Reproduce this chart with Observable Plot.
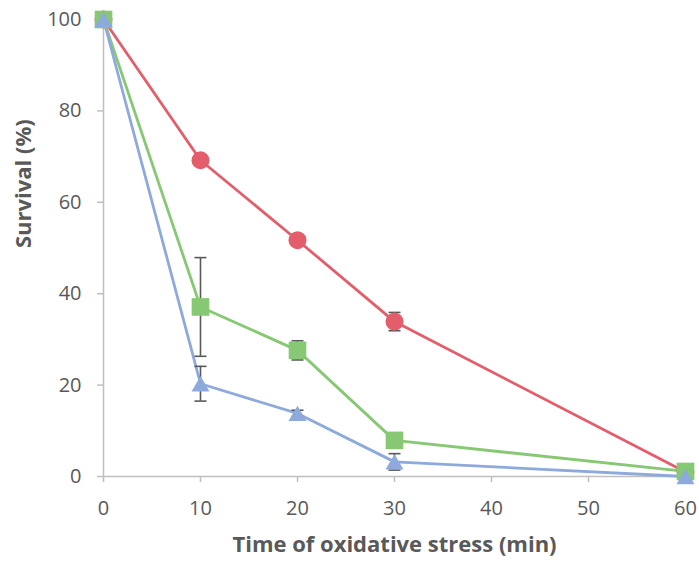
<!DOCTYPE html>
<html>
<head>
<meta charset="utf-8">
<script src="https://cdn.jsdelivr.net/npm/d3@7"></script>
<script src="https://cdn.jsdelivr.net/npm/@observablehq/plot@0.6"></script>
<style>
  html, body { margin: 0; padding: 0; background: #fff; }
  #chart svg { display: block; }
</style>
</head>
<body>
<div id="chart"></div>
<script>
// ---- data ----
const times = [0, 10, 20, 30, 60];
const xTicks = [0, 10, 20, 30, 40, 50, 60];
const yTicks = [0, 20, 40, 60, 80, 100];

const seriesNames = ["Series 1", "Series 2", "Series 3"];
const series1Values = [100, 69.2, 51.7, 33.9, 1.0];
const series1Errors = [0, 1.0, 1.0, 2.0, 0.3];
const series2Values = [100, 37.1, 27.6, 7.9, 1.1];
const series2Errors = [0, 10.8, 2.1, 0.8, 0.3];
const series3Values = [100, 20.3, 13.8, 3.2, 0.0];
const series3Errors = [0, 3.8, 0.7, 1.8, 0.2];

const xLabel = "Time of oxidative stress (min)";
const yLabel = "Survival (%)";

// ---- styles ----
const colors = ["#E35D6A", "#86C873", "#8EA9DB"];
const rOf = (size) => Math.sqrt(size / Math.PI);
const squareSym = { draw(c, size) { const r = rOf(size) * 0.98; c.moveTo(-r, -r); c.lineTo(r, -r); c.lineTo(r, r); c.lineTo(-r, r); c.closePath(); } };
const triangleSym = { draw(c, size) { const r = rOf(size); c.moveTo(0, -0.85 * r); c.lineTo(r, 0.85 * r); c.lineTo(-r, 0.85 * r); c.closePath(); } };
const capSym = { draw(c, size) { const r = rOf(size); c.moveTo(-r, 0); c.lineTo(r, 0); } };
const symbols = ["circle", squareSym, triangleSym];

const allValues = [series1Values, series2Values, series3Values];
const allErrors = [series1Errors, series2Errors, series3Errors];
const rows = [];
seriesNames.forEach((name, i) => {
  times.forEach((t, j) => rows.push({ series: name, idx: i, t, v: allValues[i][j], e: allErrors[i][j] }));
});
const errRows = rows.filter(d => d.e > 0);

const font = "'Open Sans', sans-serif";
const marks = [
  Plot.ruleY([0], { stroke: "#BFBFBF", strokeWidth: 1.5 }),
  Plot.ruleX([0], { stroke: "#BFBFBF", strokeWidth: 1.5 }),
  Plot.axisX({ ticks: xTicks, tickSize: 6, tickPadding: 18, stroke: "#BFBFBF", strokeWidth: 1.5, fontSize: 20, label: null }),
  Plot.axisY({ ticks: yTicks, tickSize: 6, tickPadding: 16, stroke: "#BFBFBF", strokeWidth: 1.5, fontSize: 20, label: null }),
  Plot.text([xLabel], { frameAnchor: "bottom", dy: 75, fontSize: 22, fontWeight: "bold" }),
  Plot.text([yLabel], { frameAnchor: "left", dx: -80, rotate: -90, fontSize: 22, fontWeight: "bold" })
];
seriesNames.forEach((name, i) => {
  marks.push(Plot.line(rows.filter(d => d.idx === i), { x: "t", y: "v", stroke: colors[i], strokeWidth: 2.8 }));
});
marks.push(
  Plot.ruleX(errRows, { x: "t", y1: d => d.v - d.e, y2: d => d.v + d.e, stroke: "#595959", strokeWidth: 1.6 }),
  Plot.dot(errRows, { x: "t", y: d => d.v + d.e, symbol: capSym, r: 6, stroke: "#595959", strokeWidth: 1.6, fill: "none" }),
  Plot.dot(errRows, { x: "t", y: d => d.v - d.e, symbol: capSym, r: 6, stroke: "#595959", strokeWidth: 1.6, fill: "none" })
);
seriesNames.forEach((name, i) => {
  marks.push(Plot.dot(rows.filter(d => d.idx === i), { x: "t", y: "v", symbol: symbols[i], r: 9, fill: colors[i], stroke: "none" }));
});

const chart = Plot.plot({
  width: 699,
  height: 561,
  marginLeft: 103,
  marginRight: 14,
  marginTop: 19,
  marginBottom: 85,
  style: { fontFamily: font, color: "#595959", background: "#fff" },
  x: { domain: [0, 60] },
  y: { domain: [0, 100] },
  marks
});
document.getElementById("chart").appendChild(chart);
</script>
</body>
</html>
